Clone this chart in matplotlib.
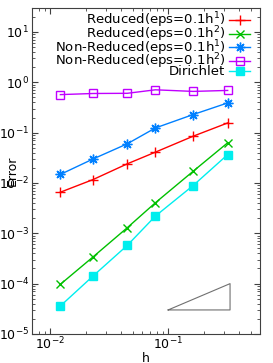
import numpy as np
import matplotlib
matplotlib.use('Agg')
import matplotlib.pyplot as plt

# Data
h = [0.0122, 0.0231, 0.045, 0.078, 0.163, 0.32]
red_err = [0.00656, 0.0117, 0.024, 0.041, 0.085, 0.156]
green_err = [9.7e-5, 3.4e-4, 1.29e-3, 4.05e-3, 0.0171, 0.063]
blue_err = [0.0148, 0.030, 0.060, 0.124, 0.229, 0.39]
purple_err = [0.57, 0.60, 0.605, 0.71, 0.66, 0.69]
cyan_err = [3.6e-5, 1.42e-4, 5.75e-4, 2.2e-3, 8.9e-3, 0.0367]
labels = ['Reduced(eps=0.1h$^1$)', 'Reduced(eps=0.1h$^2$)',
          'Non-Reduced(eps=0.1h$^1$)', 'Non-Reduced(eps=0.1h$^2$)', 'Dirichlet']
# slope triangle corners
tri_x = [0.1, 0.335, 0.335, 0.1]
tri_y = [3e-5, 3e-5, 1e-4, 3e-5]

plt.rcParams['font.family'] = ['DejaVu Sans']
plt.rcParams['mathtext.fontset'] = 'dejavusans'

fig = plt.figure(figsize=(2.73, 3.63), dpi=100)
ax = fig.add_axes([0.117, 0.080, 0.835, 0.898])

series = [red_err, green_err, blue_err, purple_err, cyan_err]
colors = ['#ff0000', '#00c000', '#0080ff', '#c000ff', '#00eeee']
markers = ['+', 'x', (8, 2, 0), 's', 's']
mfc = ['none', 'none', 'none', 'none', '#00eeee']
msize = [7, 6, 7, 5.5, 5.5]

for y, c, m, f, s, lab in zip(series, colors, markers, mfc, msize, labels):
    ax.plot(h, y, color=c, marker=m, mfc=f, mec=c, ms=s, lw=1.0, mew=1.0, label=lab)

ax.plot(tri_x, tri_y, color='#707070', lw=0.8)

ax.set_xscale('log')
ax.set_yscale('log')
ax.set_xlim(0.007, 0.6)
ax.set_ylim(1e-5, 30)

ax.tick_params(which='both', direction='in', top=True, right=True, color='#404040', labelsize=9)
ax.tick_params(which='major', length=4)
ax.tick_params(which='minor', length=2)
ax.tick_params(axis='x', which='both', pad=1)
ax.tick_params(axis='y', which='both', pad=2)
for sp in ax.spines.values():
    sp.set_color('#404040')
    sp.set_linewidth(0.8)

ax.set_xlabel('h', fontsize=9, labelpad=0)
ax.set_ylabel('Error', fontsize=9, labelpad=-14)

leg = ax.legend(loc='upper right', bbox_to_anchor=(0.97, 1.0), frameon=False, markerfirst=False,
                fontsize=9.5, handlelength=1.6, handletextpad=0.3, labelspacing=-0.45,
                borderaxespad=0.1, borderpad=0.1)
# right-align legend text like gnuplot
for vp in leg._legend_box._children[-1]._children:
    vp.align = 'right'

fig.savefig('out.png', dpi=100)
